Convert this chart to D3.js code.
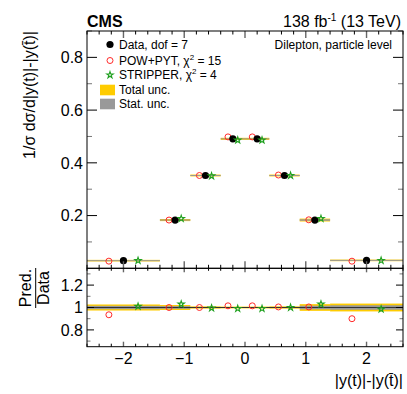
<!DOCTYPE html>
<html>
<head>
<meta charset="utf-8">
<script src="https://cdn.jsdelivr.net/npm/d3@7"></script>
<style>
  body { margin: 0; background: #fff; }
  text { font-family: "Liberation Sans", Arial, sans-serif; fill: #000; }
</style>
</head>
<body>
<svg id="chart" width="407" height="394"></svg>
<script>
const binEdges = [-2.6, -1.4, -0.9, -0.4, 0, 0.4, 0.9, 1.4, 2.6];
const dataVals = [0.029, 0.183, 0.352, 0.491, 0.491, 0.352, 0.183, 0.030];
const powRatio = [0.935, 1.0, 1.0, 1.015, 1.015, 1.005, 1.005, 0.90];
const stripRatio = [1.01, 1.03, 0.995, 0.99, 0.99, 1.0, 1.03, 0.985];
const totUnc = [0.027, 0.022, 0.010, 0.008, 0.008, 0.010, 0.030, 0.035];
const statUnc = [0.015, 0.012, 0.005, 0.004, 0.004, 0.005, 0.016, 0.020];
const xTickLabels = [-2, -1, 0, 1, 2];
const yTopTickLabels = [0.2, 0.4, 0.6, 0.8];
const yRatioTickLabels = [0.8, 1, 1.2];

const YELLOW = "#ffcc00", GREY = "#999999", RED = "#ff2a2a", GREEN = "#1fa01f";
const STAR = 13;

const svg = d3.select("#chart");
const pLeft = 87, pRight = 403, pTop = 31, pMid = 268.3, pBottom = 346.7;

const x = d3.scaleLinear().domain([-2.6, 2.6]).range([pLeft, pRight]);
const yTop = d3.scaleLinear().domain([0, 0.9]).range([pMid, pTop]);
const yRat = d3.scaleLinear().domain([0.65, 1.35]).range([pBottom, pMid]);

const bins = dataVals.map((v, i) => {
    const lo = binEdges[i], hi = binEdges[i + 1];
    return {
        lo: lo, hi: hi, c: (lo + hi) / 2, w: hi - lo, v: v,
        pow: v * powRatio[i], strip: v * stripRatio[i],
        powR: powRatio[i], stripR: stripRatio[i],
        tot: totUnc[i], stat: statUnc[i]
    };
});

function band(g, y, center, half, minH, color) {
    const h = d => Math.max(y(center(d) - half(d)) - y(center(d) + half(d)), minH);
    g.selectAll(null)
        .data(bins)
        .enter().append("rect")
        .attr("x", d => x(d.lo))
        .attr("width", d => x(d.hi) - x(d.lo))
        .attr("y", d => y(center(d)) - h(d) / 2)
        .attr("height", h)
        .attr("fill", color);
}

function markers(g, y, key, kind) {
    const sel = g.selectAll(null).data(bins).enter();
    if (kind === "data") {
        sel.append("circle")
            .attr("cx", d => x(d.c)).attr("cy", d => y(d[key]))
            .attr("r", 3.6).attr("fill", "#000");
    } else if (kind === "pow") {
        sel.append("circle")
            .attr("cx", d => x(d.c - 0.2 * d.w)).attr("cy", d => y(d[key]))
            .attr("r", 3).attr("fill", "none")
            .attr("stroke", RED).attr("stroke-width", 1);
    } else {
        sel.append("path")
            .attr("d", d3.symbol(d3.symbolStar, STAR))
            .attr("transform", d => `translate(${x(d.c + 0.2 * d.w)},${y(d[key])})`)
            .attr("fill", "none").attr("stroke", GREEN).attr("stroke-width", 1.1);
    }
}

// top panel
const gTop = svg.append("g");
band(gTop, yTop, d => d.v, d => d.v * d.tot, 1.6, YELLOW);
band(gTop, yTop, d => d.v, d => d.v * d.stat, 1, GREY);
markers(gTop, yTop, "pow", "pow");
markers(gTop, yTop, "v", "data");
markers(gTop, yTop, "strip", "strip");

// ratio panel
const gRat = svg.append("g");
band(gRat, yRat, d => 1, d => d.tot, 1.5, YELLOW);
band(gRat, yRat, d => 1, d => d.stat, 1, GREY);
gRat.append("line")
    .attr("x1", pLeft).attr("x2", pRight)
    .attr("y1", yRat(1)).attr("y2", yRat(1))
    .attr("stroke", "#333").attr("stroke-width", 1.2);
markers(gRat, yRat, "powR", "pow");
markers(gRat, yRat, "stripR", "strip");

// ticks
function xTicks(yEdge, dir, majLen, minLen) {
    d3.range(-2.6, 2.61, 0.2).forEach(t => {
        const major = Math.abs(t - Math.round(t)) < 1e-6;
        const len = major ? majLen : minLen;
        svg.append("line")
            .attr("x1", x(t)).attr("x2", x(t))
            .attr("y1", yEdge).attr("y2", yEdge + dir * len)
            .attr("stroke", major ? "#666" : "#000").attr("stroke-width", major ? 1.4 : 1);
    });
}

function yTicks(y, lo, hi, step, majEvery, majLen, minLen) {
    d3.range(lo, hi + 1e-6, step).forEach(t => {
        const major = Math.abs(t / majEvery - Math.round(t / majEvery)) < 1e-6;
        const len = major ? majLen : minLen;
        [[pLeft, 1], [pRight, -1]].forEach(([xe, dir]) => {
            svg.append("line")
                .attr("x1", xe).attr("x2", xe + dir * len)
                .attr("y1", y(t)).attr("y2", y(t))
                .attr("stroke", major ? "#000" : "#777").attr("stroke-width", 1);
        });
    });
}

xTicks(pMid, -1, 7, 3.5);
xTicks(pTop, 1, 7, 3.5);
xTicks(pMid, 1, 4, 2.5);
xTicks(pBottom, -1, 5, 3);
yTicks(yTop, 0.1, 0.9, 0.1, 0.2, 10, 5);
yTicks(yRat, 0.7, 1.3, 0.1, 0.2, 7, 3.5);

// frames
svg.append("rect").attr("x", pLeft).attr("y", pTop)
    .attr("width", pRight - pLeft).attr("height", pMid - pTop)
    .attr("fill", "none").attr("stroke", "#000");
svg.append("rect").attr("x", pLeft).attr("y", pMid)
    .attr("width", pRight - pLeft).attr("height", pBottom - pMid)
    .attr("fill", "none").attr("stroke", "#000");

// tick labels
svg.selectAll(null).data(yTopTickLabels).enter().append("text")
    .attr("x", 83).attr("y", d => yTop(d) + 5.8)
    .attr("text-anchor", "end").attr("font-size", 16)
    .text(d => d);
svg.selectAll(null).data(yRatioTickLabels).enter().append("text")
    .attr("x", 83).attr("y", d => yRat(d) + 5.8)
    .attr("text-anchor", "end").attr("font-size", 16)
    .text(d => d);
svg.selectAll(null).data(xTickLabels).enter().append("text")
    .attr("x", d => x(d)).attr("y", 364)
    .attr("text-anchor", "middle").attr("font-size", 16)
    .text(d => d < 0 ? "\u2212" + Math.abs(d) : d);

// axis titles
svg.append("text")
    .attr("x", 403).attr("y", 386)
    .attr("text-anchor", "end").attr("font-size", 16)
    .text("|y(t)|-|y(t\u0304)|");
svg.append("text")
    .attr("transform", "translate(35,31) rotate(-90)")
    .attr("text-anchor", "end").attr("font-size", 16)
    .text("1/\u03c3 d\u03c3/d|y(t)|-|y(t\u0304)|");

const frac = svg.append("g").attr("transform", "translate(0,288) rotate(-90)");
frac.append("text").attr("x", 0).attr("y", 31)
    .attr("text-anchor", "middle").attr("font-size", 16).text("Pred.");
frac.append("line").attr("x1", -20).attr("x2", 20)
    .attr("y1", 35.7).attr("y2", 35.7).attr("stroke", "#000");
frac.append("text").attr("x", 0).attr("y", 49)
    .attr("text-anchor", "middle").attr("font-size", 16).text("Data");

// header
svg.append("text").attr("x", 87).attr("y", 26.5)
    .attr("font-size", 16).attr("font-weight", "bold").text("CMS");
const lumi = svg.append("text").attr("x", 401).attr("y", 26.5)
    .attr("text-anchor", "end").attr("font-size", 16);
lumi.append("tspan").text("138 fb");
lumi.append("tspan").attr("font-size", 10).attr("dy", -6).text("-1");
lumi.append("tspan").attr("dy", 6).text(" (13 TeV)");

svg.append("text").attr("x", 392).attr("y", 49)
    .attr("text-anchor", "end").attr("font-size", 12)
    .text("Dilepton, particle level");

// legend
const leg = svg.append("g");
leg.append("circle").attr("cx", 110).attr("cy", 44.5).attr("r", 3.6).attr("fill", "#000");
leg.append("circle").attr("cx", 110).attr("cy", 60.5).attr("r", 3)
    .attr("fill", "none").attr("stroke", RED);
leg.append("path").attr("d", d3.symbol(d3.symbolStar, STAR))
    .attr("transform", "translate(110,75)")
    .attr("fill", "none").attr("stroke", GREEN).attr("stroke-width", 1.1);
leg.append("rect").attr("x", 100).attr("y", 84.7).attr("width", 15).attr("height", 10.6).attr("fill", YELLOW);
leg.append("rect").attr("x", 100).attr("y", 98.7).attr("width", 15).attr("height", 10.6).attr("fill", GREY);

function legText(yb, parts) {
    const t = leg.append("text").attr("x", 119).attr("y", yb).attr("font-size", 12);
    parts.forEach(p => {
        const s = t.append("tspan").text(p.s);
        if (p.sup) s.attr("font-size", 8).attr("dy", -5);
        if (p.down) s.attr("dy", 5);
    });
}
legText(48.8, [{s: "Data, dof = 7"}]);
legText(64.8, [{s: "POW+PYT, \u03c7"}, {s: "2", sup: true}, {s: " = 15", down: true}]);
legText(79, [{s: "STRIPPER, \u03c7"}, {s: "2", sup: true}, {s: " = 4", down: true}]);
legText(94, [{s: "Total unc."}]);
legText(108, [{s: "Stat. unc."}]);
</script>
</body>
</html>
